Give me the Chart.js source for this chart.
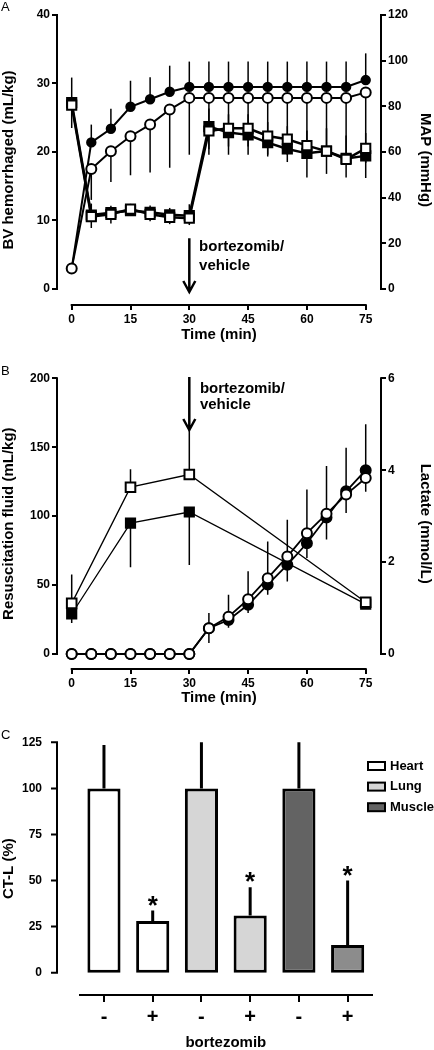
<!DOCTYPE html>
<html>
<head>
<meta charset="utf-8">
<script src="https://cdn.jsdelivr.net/npm/chart.js@4.4.1/dist/chart.umd.min.js"></script>
<style>
  body { margin: 0; background: #fff; }
  #wrap { position: relative; width: 434px; height: 1050px; overflow: hidden; background: #fff; }
  canvas { position: absolute; left: 0; }
</style>
</head>
<body>
<div id="wrap">
  <canvas id="chartA" width="434" height="345" style="top:0px"></canvas>
  <canvas id="chartB" width="434" height="360" style="top:350px"></canvas>
  <canvas id="chartC" width="434" height="355" style="top:700px"></canvas>
</div>
<script>
// ========================================
// Data
// ========================================

// Panel A - hemorrhage phase
const timeA = [0, 5, 10, 15, 20, 25, 30, 35, 40, 45, 50, 55, 60, 65, 70, 75];
const bvOpen = [3.0, 17.5, 20.1, 22.3, 24.0, 26.2, 27.9, 27.9, 27.9, 27.9, 27.9, 27.9, 27.9, 27.9, 27.9, 28.7];
const bvOpenErr = [0, 4.5, 4.5, 5.7, 7.0, 8.5, 8.3, 8.3, 8.3, 8.3, 8.3, 8.3, 8.3, 8.3, 8.3, 10.3];
const bvFilled = [3.0, 21.4, 23.4, 26.6, 27.7, 28.8, 29.5, 29.5, 29.5, 29.5, 29.5, 29.5, 29.5, 29.5, 29.5, 30.5];
const bvFilledErr = [0, 2.6, 2.9, 3.8, 3.2, 3.8, 3.7, 3.7, 3.7, 3.7, 3.7, 3.7, 3.7, 3.7, 3.7, 3.9];
const mapOpen = [80.5, 31.7, 32.7, 35.0, 32.7, 31.4, 31.0, 69.2, 70.4, 70.4, 67.0, 65.6, 62.8, 60.4, 56.8, 61.6];
const mapOpenErr = [10, 5, 4, 3, 3, 3, 3, 8, 8, 8, 9, 10, 14, 10, 8, 13];
const mapFilled = [81.6, 32.4, 33.4, 34.3, 33.6, 32.5, 32.1, 71.1, 68.5, 67.5, 64.1, 61.3, 59.4, 60.4, 57.2, 58.3];
const mapFilledErr = [11, 5, 3, 3, 3, 3, 5, 8, 8, 9, 9, 10, 10, 10, 10, 10];

const timeTicks = [0, 15, 30, 45, 60, 75];
const bvTicks = [0, 10, 20, 30, 40];
const mapTicks = [0, 20, 40, 60, 80, 100, 120];

// Panel B - resuscitation phase
const fluidTime = [0, 15, 30, 75];
const fluidOpen = [36.7, 121, 130.2, 37.5];
const fluidOpenErr = [21, 13, 35, 3];
const fluidFilled = [29, 95, 103, 36.2];
const fluidFilledErr = [6.5, 32, 38.5, 3];
const timeB = [0, 5, 10, 15, 20, 25, 30, 35, 40, 45, 50, 55, 60, 65, 70, 75];
const lactOpen = [0, 0, 0, 0, 0, 0, 0, 0.56, 0.81, 1.19, 1.65, 2.12, 2.63, 3.05, 3.47, 3.83];
const lactOpenErr = [0, 0, 0, 0, 0, 0, 0, 0.32, 0.24, 0.3, 0.36, 0.54, 0.54, 0.56, 0.4, 0.3];
const lactFilled = [0, 0, 0, 0, 0, 0, 0, 0.56, 0.74, 1.07, 1.51, 1.94, 2.41, 2.97, 3.54, 4.0];
const lactFilledErr = [0, 0, 0, 0, 0, 0, 0, 0.33, 0.55, 0.73, 0.94, 0.98, 1.17, 1.12, 0.95, 1.0];

const fluidTicks = [0, 50, 100, 150, 200];
const lactTicks = [0, 2, 4, 6];

// Injection note (both panels)
const doseTime = 30;
const doseLabel = ['bortezomib/', 'vehicle'];

// Panel C - CT-L activity
const ctlLabels = ['-', '+', '-', '+', '-', '+'];
const ctlValues = [100, 28, 100, 31, 100, 15];
const ctlErr = [23.5, 5.7, 26, 15.3, 26, 35];
const ctlColors = ['#ffffff', '#ffffff', '#d6d6d6', '#d6d6d6', '#636363', '#8c8c8c'];
const ctlStars = [false, true, false, true, false, true];
const ctlTicks = [0, 25, 50, 75, 100, 125];
const tissues = ['Heart', 'Lung', 'Muscle'];
const tissueColors = ['#ffffff', '#d6d6d6', '#636363'];

// ========================================
// Helpers
// ========================================
Chart.defaults.font.family = "'Liberation Sans', Arial, sans-serif";
Chart.defaults.color = '#000';

const FONT = "'Liberation Sans', Arial, sans-serif";
const pairs = (xs, ys) => xs.map((x, i) => ({ x: x, y: ys[i] }));
const bold = (size) => ({ size: size, weight: 'bold' });
const fixTicks = (vals) => (s) => { s.ticks = vals.map(v => ({ value: v })); };

function valueAxis(o) {
    return {
        type: 'linear',
        position: o.position,
        min: o.min,
        max: o.max,
        afterBuildTicks: fixTicks(o.ticks),
        afterFit: (s) => { if (s.isHorizontal()) s.height = o.size; else s.width = o.size; },
        border: { display: false },
        grid: { drawOnChartArea: false, color: '#000', lineWidth: 2, tickLength: 5 },
        ticks: { font: bold(12), color: '#000', padding: 2, autoSkip: false, maxRotation: 0 },
        title: { display: true, text: o.title, font: bold(15), color: '#000', padding: o.titlePad }
    };
}

function lineSet(xs, ys, err, dir, axis, shape, filled, lw, r) {
    return {
        data: pairs(xs, ys),
        yAxisID: axis,
        borderColor: '#000',
        borderWidth: lw,
        tension: 0,
        pointStyle: shape,
        pointRadius: r,
        pointBorderWidth: 2,
        pointBorderColor: '#000',
        pointBackgroundColor: filled ? '#000' : '#fff',
        err: err,
        errDir: dir
    };
}

// axis lines that only span a value range
function axisLines(ranges) {
    return {
        id: 'axisLines',
        afterDraw(chart) {
            const ctx = chart.ctx, a = chart.chartArea;
            ctx.save();
            ctx.strokeStyle = '#000';
            ctx.lineWidth = 2;
            ctx.lineCap = 'square';
            for (const id in ranges) {
                const s = chart.scales[id];
                const v0 = ranges[id][0], v1 = ranges[id][1];
                ctx.beginPath();
                if (s.isHorizontal()) {
                    ctx.moveTo(s.getPixelForValue(v0), a.bottom);
                    ctx.lineTo(s.getPixelForValue(v1), a.bottom);
                } else {
                    const x = s.position === 'left' ? a.left : a.right;
                    ctx.moveTo(x, s.getPixelForValue(v0));
                    ctx.lineTo(x, s.getPixelForValue(v1));
                }
                ctx.stroke();
            }
            ctx.restore();
        }
    };
}

const errorBars = {
    id: 'errorBars',
    beforeDatasetsDraw(chart) {
        const ctx = chart.ctx, a = chart.chartArea;
        ctx.save();
        ctx.beginPath();
        ctx.rect(a.left, a.top, a.right - a.left, a.bottom - a.top);
        ctx.clip();
        chart.data.datasets.forEach((ds, i) => {
            if (!ds.err) return;
            const meta = chart.getDatasetMeta(i);
            const ys = chart.scales[meta.yAxisID];
            ctx.strokeStyle = '#000';
            ctx.lineWidth = ds.errWidth || 1.5;
            meta.data.forEach((el, j) => {
                const e = ds.err[j];
                if (!e) return;
                const d = ds.data[j];
                const v = typeof d === 'object' ? d.y : d;
                ctx.beginPath();
                ctx.moveTo(el.x, ys.getPixelForValue(v));
                ctx.lineTo(el.x, ys.getPixelForValue(v + ds.errDir * e));
                ctx.stroke();
            });
        });
        ctx.restore();
    }
};

// panel letter + bortezomib arrow
function notes(letter, letterY, arrowTop, arrowTip, textT, textY) {
    return {
        id: 'notes',
        afterDraw(chart) {
            const ctx = chart.ctx;
            const xs = chart.scales.x, ys = chart.scales.y;
            ctx.save();
            ctx.fillStyle = '#000';
            ctx.strokeStyle = '#000';
            ctx.font = '13px ' + FONT;
            ctx.textBaseline = 'middle';
            ctx.textAlign = 'left';
            ctx.fillText(letter, 1, letterY);

            const x = xs.getPixelForValue(doseTime);
            const y0 = ys.getPixelForValue(arrowTop), y1 = ys.getPixelForValue(arrowTip);
            ctx.lineWidth = 2.5;
            ctx.beginPath();
            ctx.moveTo(x, y0);
            ctx.lineTo(x, y1);
            ctx.moveTo(x - 6, y1 - 11);
            ctx.lineTo(x, y1);
            ctx.lineTo(x + 6, y1 - 11);
            ctx.stroke();

            ctx.font = 'bold 15px ' + FONT;
            const tx = xs.getPixelForValue(textT);
            doseLabel.forEach((t, i) => ctx.fillText(t, tx, ys.getPixelForValue(textY[i])));
            ctx.restore();
        }
    };
}

// ========================================
// Panel A
// ========================================
new Chart(document.getElementById('chartA'), {
    type: 'line',
    data: {
        datasets: [
            lineSet(timeA, bvOpen, bvOpenErr, -1, 'y', 'circle', false, 2, 5),
            lineSet(timeA, bvFilled, bvFilledErr, 1, 'y', 'circle', true, 2, 4.2),
            lineSet(timeA, mapOpen, mapOpenErr, -1, 'y1', 'rect', false, 2.5, 6.5),
            lineSet(timeA, mapFilled, mapFilledErr, 1, 'y1', 'rect', true, 2.5, 6.5)
        ]
    },
    options: {
        responsive: false,
        animation: false,
        layout: { padding: { top: 15 } },
        plugins: { legend: { display: false }, tooltip: { enabled: false } },
        scales: {
            x: valueAxis({ position: 'bottom', min: -3.75, max: 78.9, ticks: timeTicks, size: 40,
                title: 'Time (min)', titlePad: { top: 0, bottom: 1 } }),
            y: valueAxis({ position: 'left', min: -2.34, max: 40, ticks: bvTicks, size: 57,
                title: 'BV hemorrhaged (mL/kg)', titlePad: { top: 0 } }),
            y1: valueAxis({ position: 'right', min: -7.02, max: 120, ticks: mapTicks, size: 53,
                title: 'MAP (mmHg)', titlePad: { top: 0 } })
        }
    },
    plugins: [errorBars, axisLines({ x: [0, 75], y: [0, 40], y1: [0, 120] }),
        notes('A', 7, 7.4, -0.44, 32.5, [6.1, 3.4])]
});

// ========================================
// Panel B
// ========================================
new Chart(document.getElementById('chartB'), {
    type: 'line',
    data: {
        datasets: [
            lineSet(fluidTime, fluidOpen, fluidOpenErr, 1, 'y', 'rect', false, 1.3, 6.8),
            lineSet(fluidTime, fluidFilled, fluidFilledErr, -1, 'y', 'rect', true, 1.3, 6.5),
            lineSet(timeB, lactOpen, lactOpenErr, -1, 'y1', 'circle', false, 1.8, 5),
            lineSet(timeB, lactFilled, lactFilledErr, 1, 'y1', 'circle', true, 1.8, 5)
        ]
    },
    options: {
        responsive: false,
        animation: false,
        layout: { padding: { top: 28.3 } },
        plugins: { legend: { display: false }, tooltip: { enabled: false } },
        scales: {
            x: valueAxis({ position: 'bottom', min: -3.75, max: 78.9, ticks: timeTicks, size: 41,
                title: 'Time (min)', titlePad: { top: 0, bottom: 3 } }),
            y: valueAxis({ position: 'left', min: -10.9, max: 200, ticks: fluidTicks, size: 57,
                title: 'Resuscitation fluid (mL/kg)', titlePad: { top: 0 } }),
            y1: valueAxis({ position: 'right', min: -0.327, max: 6, ticks: lactTicks, size: 53,
                title: 'Lactate (mmol/L)', titlePad: { top: 0 } })
        }
    },
    plugins: [errorBars, axisLines({ x: [0, 75], y: [0, 200], y1: [0, 6] }),
        notes('B', 21, 201, 162.5, 32.7, [192.7, 180.6])]
});

// ========================================
// Panel C
// ========================================
const Y_AXIS_X = 57;

const panelC = {
    id: 'panelC',
    afterDraw(chart) {
        const ctx = chart.ctx, ys = chart.scales.y;
        ctx.save();
        ctx.fillStyle = '#000';
        ctx.strokeStyle = '#000';

        // detached y axis
        ctx.lineWidth = 2;
        ctx.lineCap = 'square';
        ctx.beginPath();
        ctx.moveTo(Y_AXIS_X, ys.getPixelForValue(0));
        ctx.lineTo(Y_AXIS_X, ys.getPixelForValue(125));
        ctlTicks.forEach(v => {
            const y = ys.getPixelForValue(v);
            ctx.moveTo(Y_AXIS_X - 5, y);
            ctx.lineTo(Y_AXIS_X, y);
        });
        ctx.stroke();

        // letter
        ctx.font = '13px ' + FONT;
        ctx.textBaseline = 'middle';
        ctx.textAlign = 'left';
        ctx.fillText('C', 1, 35);

        // significance stars
        const meta = chart.getDatasetMeta(0);
        ctx.font = 'bold 26px ' + FONT;
        ctx.textAlign = 'center';
        ctx.textBaseline = 'alphabetic';
        meta.data.forEach((el, i) => {
            if (!ctlStars[i]) return;
            ctx.fillText('*', el.x, ys.getPixelForValue(ctlValues[i] + ctlErr[i]) + 3);
        });

        // legend
        ctx.font = 'bold 13px ' + FONT;
        ctx.textAlign = 'left';
        ctx.textBaseline = 'middle';
        ctx.lineWidth = 2;
        tissues.forEach((t, i) => {
            const y = 66 + i * 20.6;
            ctx.fillStyle = tissueColors[i];
            ctx.fillRect(368, y - 4, 17, 8);
            ctx.strokeRect(368, y - 4, 17, 8);
            ctx.fillStyle = '#000';
            ctx.fillText(t, 390, y);
        });
        ctx.restore();
    }
};

new Chart(document.getElementById('chartC'), {
    type: 'bar',
    data: {
        labels: ctlLabels,
        datasets: [{
            data: ctlValues,
            backgroundColor: ctlColors,
            borderColor: '#000',
            borderWidth: 3,
            borderSkipped: false,
            barPercentage: 0.68,
            categoryPercentage: 1,
            err: ctlErr,
            errDir: 1,
            errWidth: 3
        }]
    },
    options: {
        responsive: false,
        animation: false,
        layout: { padding: { top: 42.3, right: 62 } },
        plugins: { legend: { display: false }, tooltip: { enabled: false } },
        scales: {
            x: {
                afterFit: (s) => { s.height = 60; },
                grid: { drawOnChartArea: false, offset: false, color: '#000', lineWidth: 2, tickLength: 7 },
                border: { display: true, color: '#000', width: 2 },
                ticks: { font: bold(20), color: '#000', padding: 3 },
                title: { display: true, text: 'bortezomib', font: bold(15), color: '#000', padding: { top: 0, bottom: 3 } }
            },
            y: {
                min: -12.1,
                max: 125,
                afterBuildTicks: fixTicks(ctlTicks),
                afterFit: (s) => { s.width = 79.6; },
                grid: { display: false },
                border: { display: false },
                ticks: { font: bold(12), color: '#000', padding: 29.6 },
                title: { display: true, text: 'CT-L (%)', font: bold(15), color: '#000', padding: { top: 0 } }
            }
        }
    },
    plugins: [errorBars, panelC]
});
</script>
</body>
</html>
